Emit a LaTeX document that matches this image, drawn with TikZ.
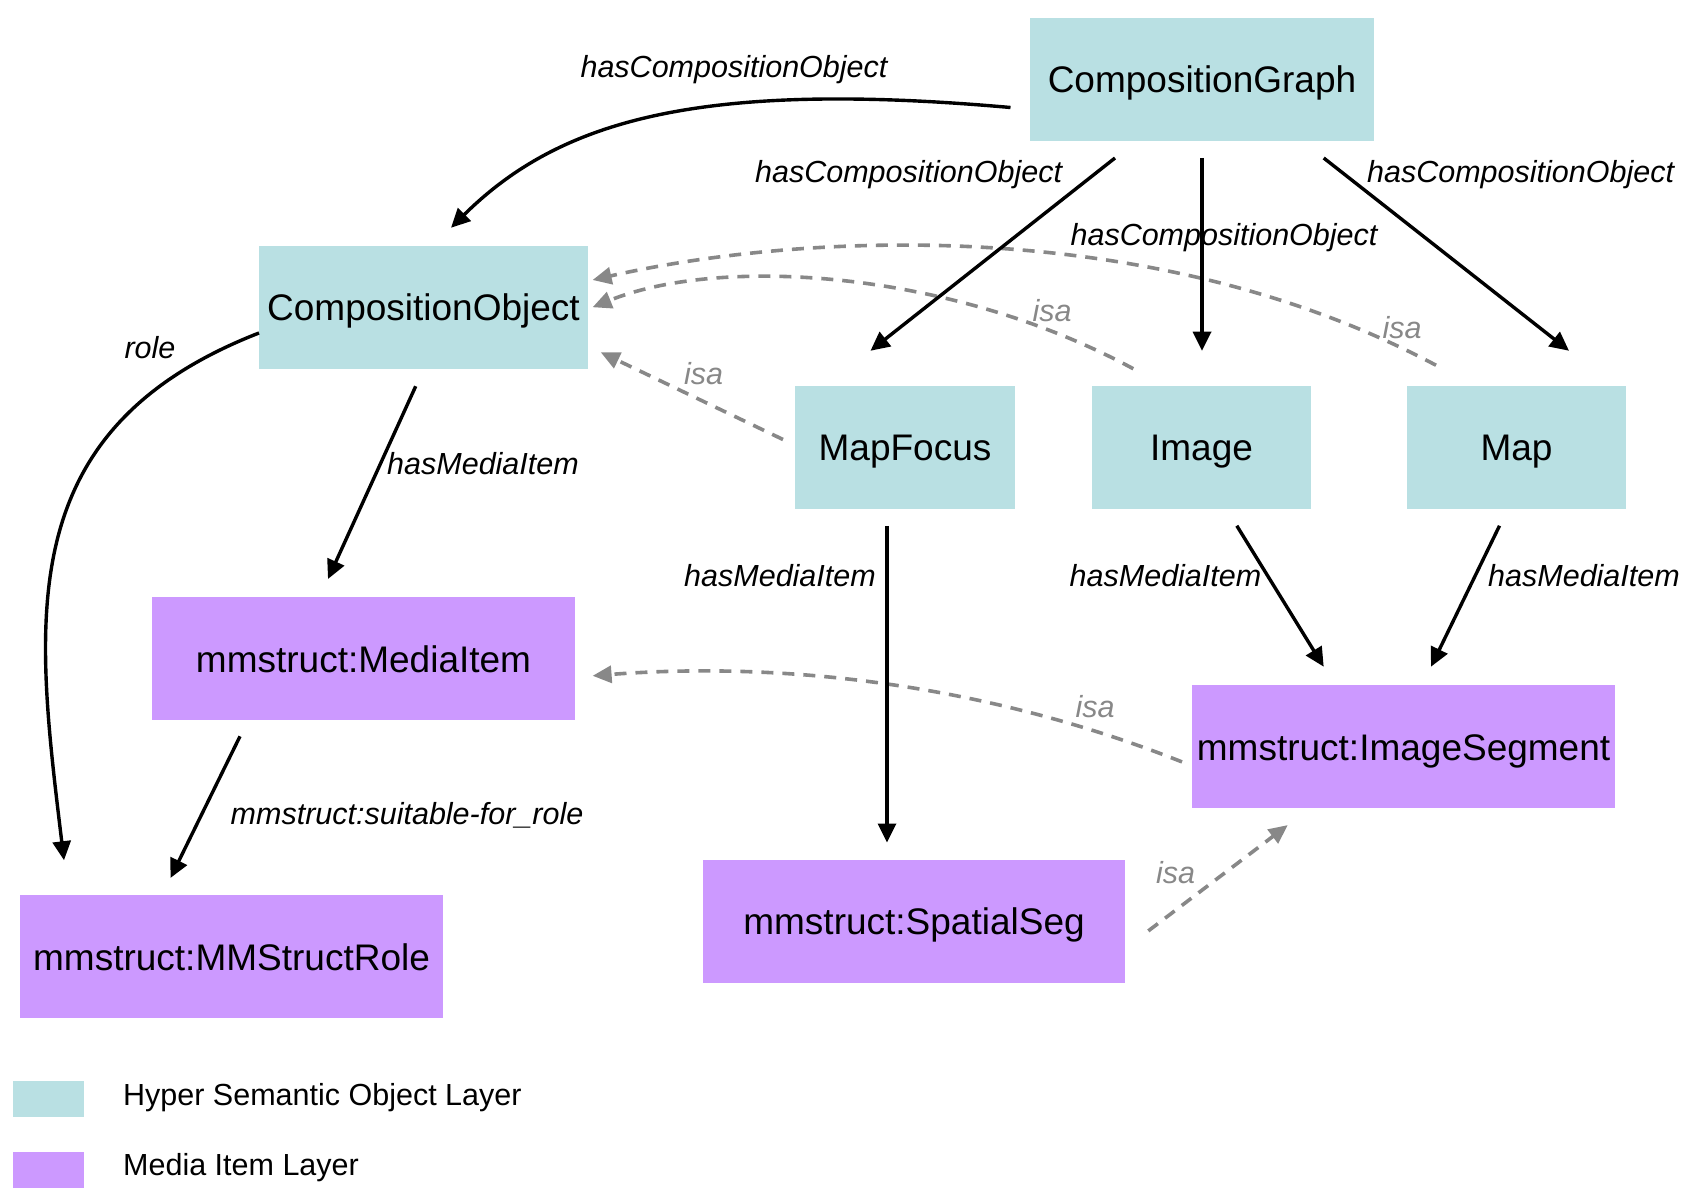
\documentclass[tikz,border=0pt]{standalone}
\usepackage{fontspec}
\setmainfont{Liberation Sans}
\usetikzlibrary{arrows.meta,calc}
\definecolor{hso}{RGB}{185,224,227}
\definecolor{mil}{RGB}{204,153,255}
\definecolor{isagray}{RGB}{136,136,136}
\begin{document}
\begin{tikzpicture}[x=1pt,y=-1pt,
  box/.style={minimum height=123pt, inner sep=0pt, outer sep=0pt, text height=26.5pt, text depth=0pt, font=\fontsize{37}{44}\selectfont, anchor=center},
  hsobox/.style={box, fill=hso},
  mibox/.style={box, fill=mil, minimum width=423pt},
  rel/.style={line width=3.4pt, -{Triangle[length=19pt,width=18pt]}},
  isaline/.style={line width=3.6pt, draw=isagray, dash pattern=on 12pt off 9pt, -{Triangle[length=19pt,width=17pt]}},
  lbl/.style={font=\fontsize{30.5}{36}\selectfont\itshape, inner sep=0pt, text height=21.8pt, text depth=0pt},
  isalbl/.style={lbl, text=isagray},
  legtext/.style={font=\fontsize{30.5}{36}\selectfont, inner sep=0pt, anchor=base west},
  legbox/.style={minimum width=71pt, minimum height=36pt, inner sep=0pt}
]
\useasboundingbox (0,0) rectangle (1682,1190);

% nodes
\node[hsobox, minimum width=344pt] (cg) at (1202,79.5) {CompositionGraph};
\node[hsobox, minimum width=329pt] (co) at (423.5,307.25) {CompositionObject};
\node[hsobox, minimum width=220pt] (mf) at (905,447.25) {MapFocus};
\node[hsobox, minimum width=219pt] (im) at (1201.5,447.25) {Image};
\node[hsobox, minimum width=219pt] (mp) at (1516.5,447.25) {Map};
\node[mibox] (mi) at (363.5,658.8) {mmstruct:MediaItem};
\node[mibox] (ro) at (231.5,956.75) {mmstruct:MMStructRole};
\node[mibox, minimum width=422pt] (ss) at (914,921.5) {mmstruct:SpatialSeg};
\node[mibox] (is) at (1403.5,746.9) {mmstruct:ImageSegment};

% isa (dashed) connectors
\draw[isaline] ($(mf.west)+(-12,-7.75)$) -- ($(co.south east)+(12.7,-16.5)$);
\draw[isaline] ($(im.north west)+(41.3,-17)$) .. controls +(-183.3,-99) and +(127.4,-51.6) .. ($(co.east)+(4.6,0)$);
\draw[isaline] ($(mp.north west)+(29,-20.5)$) .. controls +(-286,-152) and +(207.4,-47) .. ($(co.east)+(4.6,-27.25)$);
\draw[isaline] ($(is.west)+(-10,15)$) .. controls +(-182,-72) and +(207.4,-15.8) .. ($(mi.east)+(17.6,17)$);
\draw[isaline] ($(ss.east)+(23.3,9.4)$) -- ($(is.south)+(-115.7,16.7)$);

% relation connectors
\draw[rel] ($(cg.west)+(-19.5,28)$) .. controls +(-310.5,-27.5) and +(109,-108) .. ($(co.north)+(27.5,-18)$);
\draw[rel] ($(cg.south)+(-87,17)$) -- ($(mf.north)+(-34.5,-35)$);
\draw[rel] ($(cg.south)+(0,17)$) -- ($(im.north)+(0.5,-35)$);
\draw[rel] ($(cg.south)+(121.7,17)$) -- ($(mp.north)+(52.5,-35)$);
\draw[rel] ($(co.south)+(-7.8,17.5)$) -- ($(mi.north)+(-35.5,-18.3)$);
\draw[rel] ($(co.west)+(0,25.75)$) .. controls +(-249,97) and +(-29,-240) .. ($(ro.north)+(-167.5,-35)$);
\draw[rel] ($(mi.south)+(-123.5,16)$) -- ($(ro.north)+(-61,-17.3)$);
\draw[rel] ($(mf.south)+(-18,17)$) -- ($(ss.north)+(-27,-17.5)$);
\draw[rel] ($(im.south)+(35.3,17)$) -- ($(is.north)+(-79.8,-18.7)$);
\draw[rel] ($(mp.south)+(-17,17)$) -- ($(is.north)+(27.5,-18.7)$);

% labels
\node[lbl] (l1) at (734,66.5) {hasCompositionObject};
\node[lbl] (l2) at (908.6,171.6) {hasCompositionObject};
\node[lbl] (l3) at (1224,235) {hasCompositionObject};
\node[lbl] (l4) at (1520.6,171.6) {hasCompositionObject};
\node[lbl] (l5) at (150,347.6) {role};
\node[lbl] (l6) at (483,463.4) {hasMediaItem};
\node[lbl] (l7) at (780,576) {hasMediaItem};
\node[lbl] (l8) at (1165.5,576) {hasMediaItem};
\node[lbl] (l9) at (1584,576) {hasMediaItem};
\node[lbl] (l10) at (407,814) {mmstruct:suitable-for\_role};
\node[isalbl] (i1) at (703.7,374) {isa};
\node[isalbl] (i2) at (1052,311) {isa};
\node[isalbl] (i3) at (1402,328) {isa};
\node[isalbl] (i4) at (1095,707) {isa};
\node[isalbl] (i5) at (1175.5,873) {isa};

% legend
\node[legbox, fill=hso] (lg1) at (48.5,1099) {};
\node[legbox, fill=mil] (lg2) at (48.5,1170) {};
\node[legtext] (lt1) at (123,1105.5) {Hyper Semantic Object Layer};
\node[legtext] (lt2) at (123,1175.6) {Media Item Layer};
\end{tikzpicture}
\end{document}
